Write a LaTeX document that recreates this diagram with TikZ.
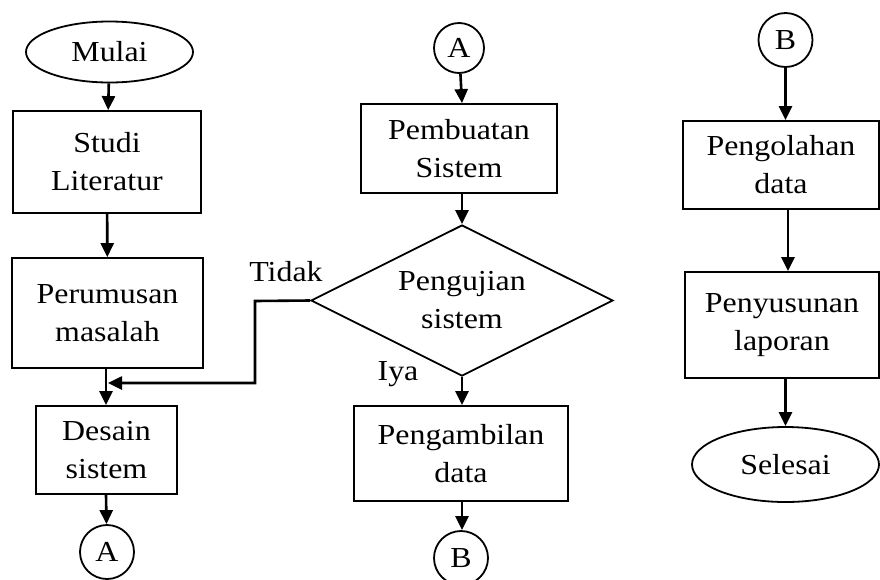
\documentclass[tikz,border=0pt]{standalone}
\usepackage{fontspec}
\setmainfont{Liberation Serif}[FakeStretch=1.1]
\usetikzlibrary{shapes.geometric,arrows.meta}
\begin{document}
\begin{tikzpicture}[x=1pt,y=-1pt,
  font=\fontsize{29}{38}\selectfont,
  every node/.style={align=center,inner sep=0pt},
  procbox/.style={draw,line width=1.8pt,minimum width=#1},
  term/.style={draw,ellipse,line width=1.8pt},
  conn/.style={draw,circle,line width=1.8pt,minimum size=54pt},
  flow/.style={line width=2.6pt,-{Triangle[length=14pt,width=13pt]}},
  lbl/.style={}]
\fill[white] (0,0) rectangle (880,579);
\useasboundingbox (0,0) rectangle (880,579);
\clip (0,0) rectangle (880,579);
% left column
\node[term,minimum width=167pt,minimum height=61pt] (mulai) at (109.5,52) {Mulai};
\node[procbox=188pt,minimum height=102pt] (studi) at (107,162) {Studi\\Literatur};
\node[procbox=191pt,minimum height=110pt] (rumus) at (107.5,313) {Perumusan\\masalah};
\node[procbox=141pt,minimum height=88pt] (desain) at (106.5,450) {Desain\\sistem};
\node[conn] (a1) at (107,552) {A};
% middle column
\node[conn,minimum size=50pt] (a2) at (459,48) {A};
\node[procbox=196pt,minimum height=89pt] (buat) at (459,148.5) {Pembuatan\\Sistem};
\node[draw,diamond,aspect=2,line width=1.8pt,minimum width=302pt,minimum height=151pt] (uji) at (462,300.5) {Pengujian\\sistem};
\node[procbox=214pt,minimum height=95pt] (ambil) at (461,453.5) {Pengambilan\\data};
\node[conn] (b1) at (461,558) {B};
% right column
\node[conn] (b2) at (785.5,40) {B};
\node[procbox=196pt,minimum height=88pt] (olah) at (781,165) {Pengolahan\\data};
\node[procbox=194pt,minimum height=106pt] (susun) at (782,325) {Penyusunan\\laporan};
\node[term,minimum width=187pt,minimum height=75pt] (selesai) at (785.5,464.5) {Selesai};
% labels
\node[lbl] (tidak) at (286,272) {Tidak};
\node[lbl] (iya) at (398,374) {Iya};
% connectors
\draw[flow] (mulai) -- (studi);
\draw[flow] (studi) -- (rumus);
\draw[flow] (rumus.south -| 106,0) -- (desain.north -| 106,0);
\draw[flow] (desain.south -| 106,0) -- (a1);
\draw[flow] (a2) -- (buat.north -| uji.north);
\draw[flow] (buat.south -| uji.north) -- (uji.north);
\draw[flow] (uji.south) -- (ambil.north -| uji.south);
\draw[flow] (ambil.south -| uji.south) -- (b1.north -| uji.south);
\coordinate (fb1) at (255,301);
\coordinate (fb2) at (255,383);
\coordinate (fb3) at (108,383);
\draw[flow] (uji.west) -- (fb1) -- (fb2) -- (fb3);
\draw[flow] (b2) -- (olah.north -| b2.south);
\draw[flow] (olah.south -| 788,0) -- (susun.north -| 788,0);
\draw[flow] (susun.south -| selesai.north) -- (selesai.north);
\end{tikzpicture}
\end{document}
